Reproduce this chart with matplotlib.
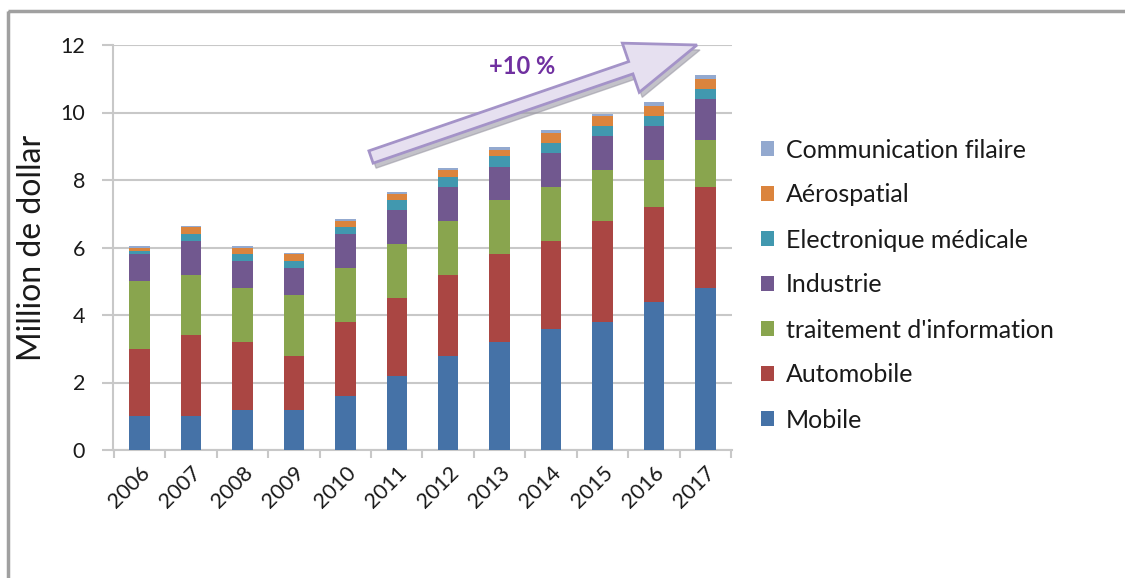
import numpy as np
import matplotlib
matplotlib.use("Agg")
import matplotlib.pyplot as plt
from matplotlib.patches import FancyArrow, Rectangle
from matplotlib.transforms import Affine2D

plt.rcParams['font.family'] = ['Lato', 'DejaVu Sans']

# données (millions de dollars)
annees = ["2006", "2007", "2008", "2009", "2010", "2011",
          "2012", "2013", "2014", "2015", "2016", "2017"]
mobile = [1.0, 1.0, 1.2, 1.2, 1.6, 2.2, 2.8, 3.2, 3.6, 3.8, 4.4, 4.8]
automobile = [2.0, 2.4, 2.0, 1.6, 2.2, 2.3, 2.4, 2.6, 2.6, 3.0, 2.8, 3.0]
traitement = [2.0, 1.8, 1.6, 1.8, 1.6, 1.6, 1.6, 1.6, 1.6, 1.5, 1.4, 1.4]
industrie = [0.8, 1.0, 0.8, 0.8, 1.0, 1.0, 1.0, 1.0, 1.0, 1.0, 1.0, 1.2]
medicale = [0.1, 0.2, 0.2, 0.2, 0.2, 0.3, 0.3, 0.3, 0.3, 0.3, 0.3, 0.3]
aerospatial = [0.08, 0.2, 0.2, 0.2, 0.2, 0.2, 0.2, 0.2, 0.3, 0.3, 0.3, 0.3]
filaire = [0.05, 0.05, 0.05, 0.05, 0.05, 0.05, 0.05, 0.08, 0.07, 0.07, 0.1, 0.1]

series = [
    ("Mobile", mobile, "#4572A7"),
    ("Automobile", automobile, "#AA4643"),
    ("traitement d'information", traitement, "#89A54E"),
    ("Industrie", industrie, "#71588F"),
    ("Electronique médicale", medicale, "#4198AF"),
    ("Aérospatial", aerospatial, "#DB843D"),
    ("Communication filaire", filaire, "#93A9CF"),
]

W, H = 1125, 578
txt = "#1A1A1A"
fig = plt.figure(figsize=(W / 100, H / 100), dpi=100)
ax = fig.add_axes([113 / W, 1 - 450 / H, (732 - 113) / W, (450 - 45) / H])

x = np.arange(len(annees))
bottom = np.zeros(len(annees))
for nom, vals, col in series:
    ax.bar(x, vals, width=0.4, bottom=bottom, color=col, label=nom, zorder=3)
    bottom += np.array(vals)

grid_col = "#C8C8C8"
ax.set_xlim(-0.52, len(annees) - 0.48)
ax.set_ylim(0, 12)
ax.set_yticks(range(0, 13, 2))
ax.yaxis.grid(True, color=grid_col, lw=1.5, zorder=0)
ax.set_xticks(x)
ax.set_xticklabels(annees, rotation=45, ha="right", rotation_mode="anchor", fontsize=15.5, color=txt)
ax.set_xticks(np.arange(len(annees) + 1) - 0.5, minor=True)
ax.tick_params(axis="x", which="major", length=0, pad=9)
ax.tick_params(axis="x", which="minor", length=6, color=grid_col, width=1.5)
ax.tick_params(axis="y", length=8, color=grid_col, width=1.5, labelsize=15.5, labelcolor=txt, pad=12)
for s in ["top", "right"]:
    ax.spines[s].set_visible(False)
for s in ["left", "bottom"]:
    ax.spines[s].set_color(grid_col)
    ax.spines[s].set_linewidth(1.5)
ax.set_ylabel("Million de dollar", fontsize=23, color=txt, labelpad=10)

h, l = ax.get_legend_handles_labels()
fig.legend(h[::-1], l[::-1], loc="upper left", bbox_to_anchor=(738 / W, 1 - 116 / H),
           frameon=False, fontsize=18, handlelength=0.55, handleheight=0.55,
           handletextpad=0.45, labelspacing=0.88, labelcolor=txt)

# flèche et texte (coordonnées en pixels)
px = Affine2D().scale(1 / W, -1 / H).translate(0, 1) + fig.transFigure
x0, y0, x1, y1 = 371, 157, 697, 45
fig.patches.append(FancyArrow(x0 + 3, y0 + 5, x1 - x0, y1 - y0, width=13, head_width=52,
                              head_length=70, length_includes_head=True,
                              transform=px, color="#9C9AA6", alpha=0.6, zorder=4))
fig.patches.append(FancyArrow(x0, y0, x1 - x0, y1 - y0, width=13, head_width=52,
                              head_length=70, length_includes_head=True,
                              transform=px, facecolor="#E6E0F0", edgecolor="#A493C8",
                              lw=2, zorder=5))
fig.text(522 / W, 1 - 67 / H, "+10 %", color="#7030A0", fontsize=17, fontweight="bold",
         ha="center", va="center")

# cadre
fig.patches.append(Rectangle((8, 11), 1200, 700, transform=px, fill=False,
                             edgecolor="#A0A0A0", lw=2.5))

fig.savefig("out.png", dpi=100)
